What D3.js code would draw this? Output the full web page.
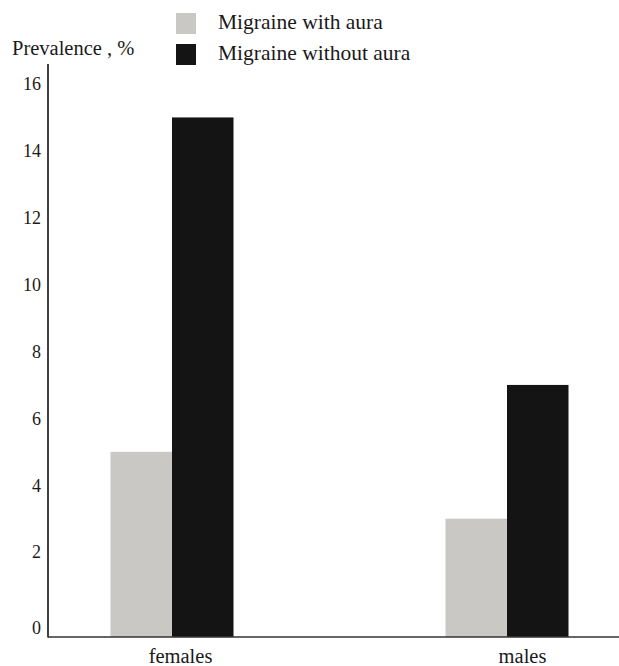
<!DOCTYPE html>
<html lang="en">
<head>
    <meta charset="UTF-8">
    <title>Migraine prevalence</title>
    <script src="https://d3js.org/d3.v7.min.js"></script>
    <style>
        body {
            margin: 0;
            background-color: #ffffff;
        }
    </style>
</head>
<body>
    <svg id="chart" width="619" height="666"></svg>

    <script>
        // Data
        const categories = ["females", "males"];
        const series = ["Migraine with aura", "Migraine without aura"];
        const withAura = [5, 3];
        const withoutAura = [15, 7];
        const yTicks = [0, 2, 4, 6, 8, 10, 12, 14, 16];
        const seriesColors = ["#c9c8c4", "#141414"];

        const rows = categories.map((c, i) => ({
            category: c,
            values: [
                { key: series[0], value: withAura[i] },
                { key: series[1], value: withoutAura[i] }
            ]
        }));

        const font = '"Liberation Serif"';
        const svg = d3.select("#chart");
        const axisX = 48;        // y axis position
        const baseY = 637;       // x axis line
        const axisTop = 64;

        const y = d3.scaleLinear().domain([0, 16]).range([619, 84]);
        const x = d3.scalePoint().domain(categories).range([172, 507]);
        const xSub = d3.scaleBand().domain(series).range([-61.5, 61.5]);
        const color = d3.scaleOrdinal().domain(series).range(seriesColors);

        // bars
        const groups = svg.selectAll(".group")
            .data(rows)
            .enter().append("g")
            .attr("class", "group")
            .attr("transform", d => `translate(${x(d.category)},0)`);

        groups.selectAll("rect")
            .data(d => d.values)
            .enter().append("rect")
            .attr("x", d => xSub(d.key))
            .attr("y", d => y(d.value))
            .attr("width", xSub.bandwidth())
            .attr("height", d => baseY - y(d.value))
            .attr("fill", d => color(d.key));

        // y axis (labels only, then a plain line)
        const yAxis = d3.axisLeft(y).tickValues(yTicks).tickSize(0).tickPadding(7);
        const yG = svg.append("g")
            .attr("transform", `translate(${axisX},0)`)
            .call(yAxis);
        yG.select(".domain").remove();
        yG.selectAll(".tick text")
            .style("font-family", font)
            .style("font-size", "18px")
            .style("fill", "#1a1a1a")
            .attr("dy", d => d === 0 ? "0.8em" : "0.32em");

        svg.append("line")
            .attr("x1", axisX).attr("x2", axisX)
            .attr("y1", axisTop).attr("y2", baseY + 0.5)
            .attr("stroke", "#111").attr("stroke-width", 1.6);

        // x axis (labels sit a little right of the bar pairs in the original)
        const xAxis = d3.axisBottom(x).tickSize(0).tickPadding(11);
        const xG = svg.append("g")
            .attr("transform", `translate(0,${baseY})`)
            .call(xAxis);
        xG.select(".domain").remove();
        xG.selectAll(".tick text")
            .style("font-family", font)
            .style("font-size", "20.5px")
            .style("fill", "#1a1a1a")
            .attr("dx", d => d === "females" ? 8 : 15);

        svg.append("line")
            .attr("x1", axisX).attr("x2", 619)
            .attr("y1", baseY).attr("y2", baseY)
            .attr("stroke", "#333").attr("stroke-width", 1.3);

        // axis title
        svg.append("text")
            .attr("x", 12).attr("y", 55)
            .style("font-family", font)
            .style("font-size", "20.5px")
            .style("fill", "#1a1a1a")
            .text("Prevalence , %");

        // legend
        const legend = svg.selectAll(".legend")
            .data(series)
            .enter().append("g")
            .attr("class", "legend")
            .attr("transform", (d, i) => `translate(176,${13 + i * 31})`);

        legend.append("rect")
            .attr("width", 20).attr("height", 21)
            .attr("fill", d => color(d));

        legend.append("text")
            .attr("x", 42).attr("y", 15.5)
            .style("font-family", font)
            .style("font-size", "21.5px")
            .style("fill", "#1a1a1a")
            .text(d => d);
    </script>
</body>
</html>
